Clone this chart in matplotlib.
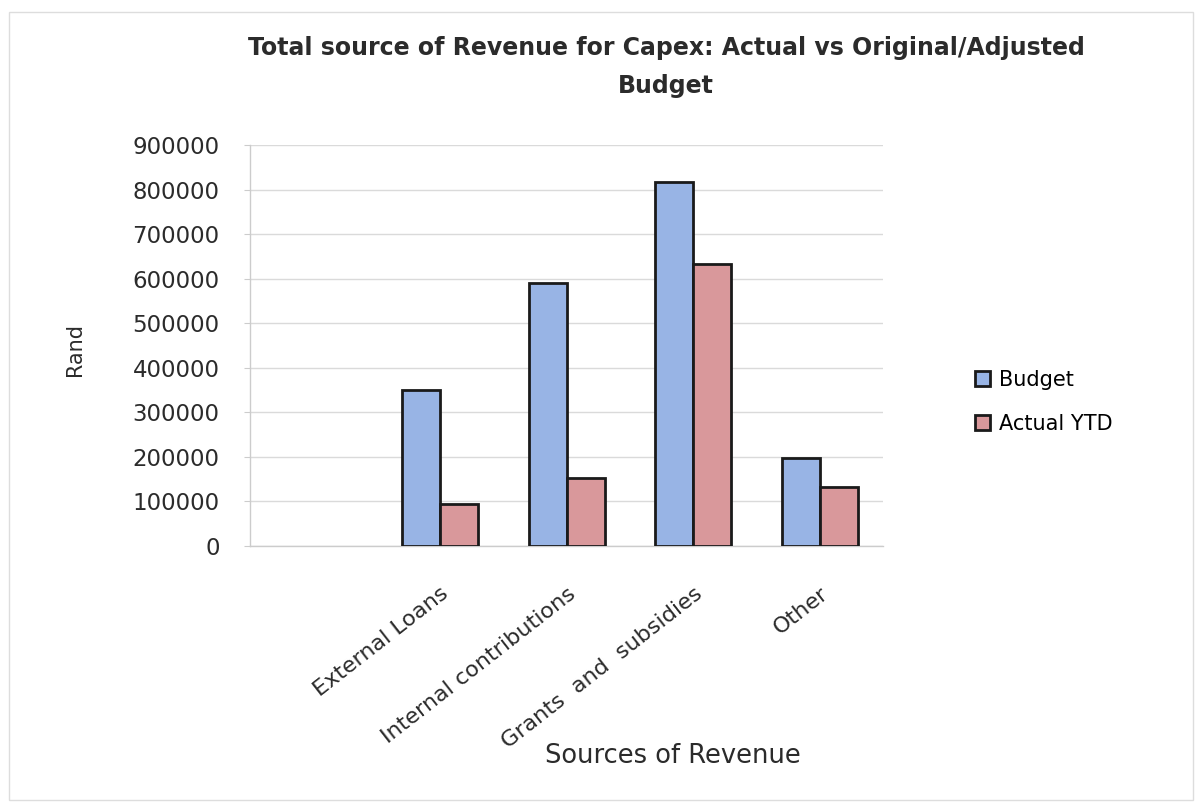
import matplotlib
matplotlib.use("Agg")
import matplotlib.pyplot as plt
import numpy as np
from matplotlib.patches import Rectangle

# Capex revenue sources (Rand); first slot on the category axis is left blank
categories = ["", "External Loans", "Internal contributions", "Grants  and  subsidies", "Other"]
budget = [351000, 590000, 816000, 197000]
actual_ytd = [95000, 153000, 633000, 132000]
yticks = [0, 100000, 200000, 300000, 400000, 500000, 600000, 700000, 800000, 900000]
ytick_labels = ["0", "100000", "200000", "300000", "400000", "500000",
                "600000", "700000", "800000", "900000"]

plt.rcParams["font.family"] = ["DejaVu Sans"]
text_color = "#2b2b2b"

fig = plt.figure(figsize=(11.97, 8.10), dpi=100)
ax = fig.add_axes([0.209, 0.326, 0.529, 0.495])

x = np.arange(len(categories))
xb = x[1:]
w = 0.30
ax.bar(xb - w / 2, budget, width=w, color="#98B4E5", edgecolor="#1a1a1a",
       linewidth=2, label="Budget", zorder=3)
ax.bar(xb + w / 2, actual_ytd, width=w, color="#D9989B", edgecolor="#1a1a1a",
       linewidth=2, label="Actual YTD", zorder=3)

ax.set_xlim(-0.5, len(categories) - 0.5)
ax.set_ylim(0, 900000)
ax.set_yticks(yticks)
ax.set_yticklabels(ytick_labels, fontsize=16.5, color=text_color)
ax.set_xticks(x)
ax.set_xticklabels(categories, rotation=38, ha="right", rotation_mode="anchor",
                   fontsize=16, color=text_color)
ax.tick_params(axis="y", length=4, color="#cccccc", pad=18)
ax.tick_params(axis="x", length=0, pad=27)

ax.grid(axis="y", color="#dadada", linewidth=1, zorder=0)
for side in ["top", "right"]:
    ax.spines[side].set_visible(False)
for side in ["left", "bottom"]:
    ax.spines[side].set_color("#cccccc")
    ax.spines[side].set_linewidth(1)

fig.text(75 / 1197, 1 - 349 / 810, "Rand", rotation=90, ha="center", va="center",
         fontsize=15, color=text_color)

fig.text(666 / 1197, 1 - 48 / 810,
         "Total source of Revenue for Capex: Actual vs Original/Adjusted",
         ha="center", va="center", fontsize=17, fontweight="bold", color=text_color)
fig.text(666 / 1197, 1 - 86 / 810, "Budget", ha="center", va="center", fontsize=17,
         fontweight="bold", color=text_color)
fig.text(673 / 1197, 1 - 756 / 810, "Sources of Revenue", ha="center", va="center",
         fontsize=18.5, color=text_color)

ax.legend(loc="upper left", bbox_to_anchor=(975 / 1197, 1 - 370 / 810),
          bbox_transform=fig.transFigure, frameon=False, fontsize=15,
          handlelength=0.7, handleheight=0.7, labelspacing=1.15,
          handletextpad=0.45, borderpad=0, borderaxespad=0)

# light border round the whole chart
fig.patches.append(Rectangle((9 / 1197, 10 / 810), 1184 / 1197, 788 / 810,
                             transform=fig.transFigure, fill=False,
                             edgecolor="#dddddd", linewidth=1))

fig.savefig("out.png", dpi=100)
